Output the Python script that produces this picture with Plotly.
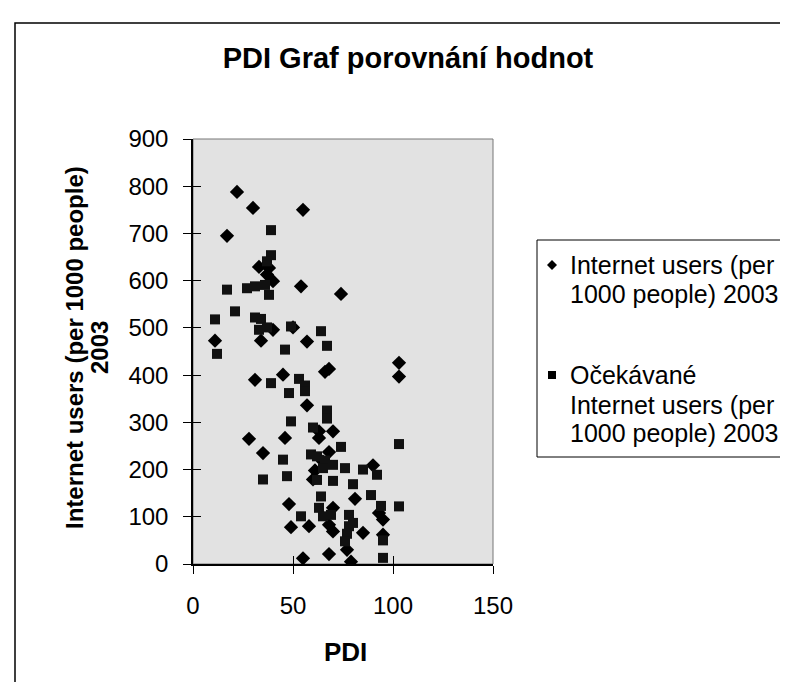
import plotly.graph_objects as go

# PDI vs internet users
pdi_actual = [22, 30, 55, 17, 33, 38, 37, 40, 54, 74,
              40, 11, 34, 50, 57, 31, 45, 66, 68, 103,
              103, 57, 28, 46, 63, 70, 63, 35, 68, 65,
              90, 61, 60, 48, 49, 58, 81, 70, 93, 95,
              68, 70, 85, 95, 77, 68, 55, 79]
users_actual = [788, 754, 750, 695, 629, 627, 613, 599, 588, 572,
                496, 473, 473, 501, 471, 390, 401, 407, 413, 426,
                397, 336, 265, 267, 281, 281, 267, 235, 237, 217,
                209, 198, 179, 127, 78, 80, 138, 119, 108, 94,
                83, 69, 66, 62, 30, 21, 12, 5]

pdi_expected = [39, 39, 37, 17, 27, 31, 36, 38, 21, 11,
                31, 34, 33, 37, 49, 64, 12, 46, 67, 39,
                53, 56, 56, 48, 67, 67, 49, 60, 74, 103,
                45, 59, 62, 66, 65, 70, 76, 85, 92, 35,
                47, 62, 70, 80, 64, 89, 63, 94, 103, 54,
                65, 69, 78, 78, 80, 77, 95, 76, 95]
users_expected = [707, 654, 641, 581, 584, 588, 591, 570, 535, 518,
                  522, 519, 496, 501, 503, 493, 445, 454, 462, 383,
                  392, 378, 366, 362, 325, 308, 302, 289, 248, 254,
                  221, 232, 228, 219, 203, 210, 203, 200, 189, 179,
                  186, 178, 176, 169, 143, 146, 119, 123, 122, 101,
                  101, 104, 104, 80, 87, 64, 50, 48, 13]

legend_actual = ["Internet users (per", "1000 people) 2003"]
legend_expected = ["Očekávané", "Internet users (per", "1000 people) 2003"]
y_title = ["Internet users (per 1000 people)", "2003"]

x_ticks = [0, 50, 100, 150]
y_ticks = [0, 100, 200, 300, 400, 500, 600, 700, 800, 900]

FONT = "Liberation Sans, Arial, sans-serif"

# plot area in pixels (left, right, top, bottom)
L, R, T, B = 185, 485, 131, 556


def px(x):
    return (x - L) / (R - L)


def py(y):
    return (B - y) / (B - T)


fig = go.Figure()
fig.add_trace(go.Scatter(x=pdi_actual, y=users_actual, mode="markers",
                         name=" ".join(legend_actual), showlegend=False,
                         marker=dict(symbol="diamond", size=11, color="black")))
fig.add_trace(go.Scatter(x=pdi_expected, y=users_expected, mode="markers",
                         name=" ".join(legend_expected), showlegend=False,
                         marker=dict(symbol="square", size=10, color="#111111")))

# invisible trace on overlay axes so the inside tick marks get drawn (cross ticks)
fig.add_trace(go.Scatter(x=[None], y=[None], xaxis="x2", yaxis="y2", showlegend=False))

fig.update_layout(
    width=788, height=682,
    margin=dict(l=L, r=788 - R, t=T, b=682 - B),
    paper_bgcolor="white",
    plot_bgcolor="#e2e2e2",
    font=dict(family=FONT, color="black", size=24),
    showlegend=False,
    title=dict(text="<b>PDI Graf porovnání hodnot</b>", x=400 / 788, xref="container",
               xanchor="center", y=1 - 50 / 682, yanchor="middle",
               font=dict(size=29, family=FONT)),
    xaxis=dict(range=[0, 150], tickvals=x_ticks, showgrid=False, zeroline=False,
               showline=True, linecolor="black", linewidth=1.5,
               ticks="outside", ticklen=8, tickcolor="black",
               tickfont=dict(size=24), ticklabelstandoff=11),
    yaxis=dict(range=[0, 900], tickvals=y_ticks, showgrid=False, zeroline=False,
               showline=True, linecolor="black", linewidth=1.5,
               ticks="outside", ticklen=8, tickcolor="black",
               tickfont=dict(size=24), ticklabelstandoff=10),
    xaxis2=dict(range=[0, 150], tickvals=x_ticks, overlaying="x", showticklabels=False,
                showgrid=False, zeroline=False, ticks="inside", ticklen=8, tickcolor="black"),
    yaxis2=dict(range=[0, 900], tickvals=y_ticks, overlaying="y", showticklabels=False,
                showgrid=False, zeroline=False, ticks="inside", ticklen=8, tickcolor="black"),
)

# axis titles
for txt, xx in zip(y_title, [66, 91]):
    fig.add_annotation(text=f"<b>{txt}</b>", xref="paper", yref="paper", x=px(xx), y=py(340),
                       xanchor="center", yanchor="middle", textangle=-90,
                       showarrow=False, font=dict(size=24, family=FONT))
fig.add_annotation(text="<b>PDI</b>", xref="paper", yref="paper",
                   x=px(337), y=py(644), xanchor="center", yanchor="middle",
                   showarrow=False, font=dict(size=26, family=FONT))

# grey frame of the plot area and the outer chart border (runs off the right/bottom edge)
fig.add_shape(type="rect", xref="paper", yref="paper", x0=0, x1=1, y0=0, y1=1,
              line=dict(color="#777777", width=1), layer="below")
fig.add_shape(type="rect", xref="paper", yref="paper",
              x0=px(7), x1=px(800), y0=py(700), y1=py(15),
              line=dict(color="black", width=1.5))

# legend box drawn by hand (Excel-style: small symbol, tight text, gap between entries)
lg_left, lg_right, lg_top, lg_bottom = 529, 787, 232, 449
fig.add_shape(type="rect", xref="paper", yref="paper",
              x0=px(lg_left), x1=px(lg_right), y0=py(lg_bottom), y1=py(lg_top),
              line=dict(color="black", width=1), fillcolor="white")
sym_x, text_x = lg_left + 15, lg_left + 31
rows_actual = [257, 286]
rows_expected = [367, 397, 425]
for txt, yy in zip(legend_actual + legend_expected, rows_actual + rows_expected):
    fig.add_annotation(text=txt, xref="paper", yref="paper", x=px(text_x), y=py(yy),
                       xanchor="left", yanchor="middle", showarrow=False,
                       font=dict(size=25, family=FONT))
d = 5
yy = rows_actual[0]
fig.add_shape(type="path", xref="paper", yref="paper", fillcolor="black", line=dict(width=0),
              path=f"M {px(sym_x - d)} {py(yy)} L {px(sym_x)} {py(yy - d)} "
                   f"L {px(sym_x + d)} {py(yy)} L {px(sym_x)} {py(yy + d)} Z")
s = 4
yy = rows_expected[0]
fig.add_shape(type="rect", xref="paper", yref="paper", fillcolor="black", line=dict(width=0),
              x0=px(sym_x - s), x1=px(sym_x + s), y0=py(yy + s), y1=py(yy - s))

fig.write_html("out.html")
